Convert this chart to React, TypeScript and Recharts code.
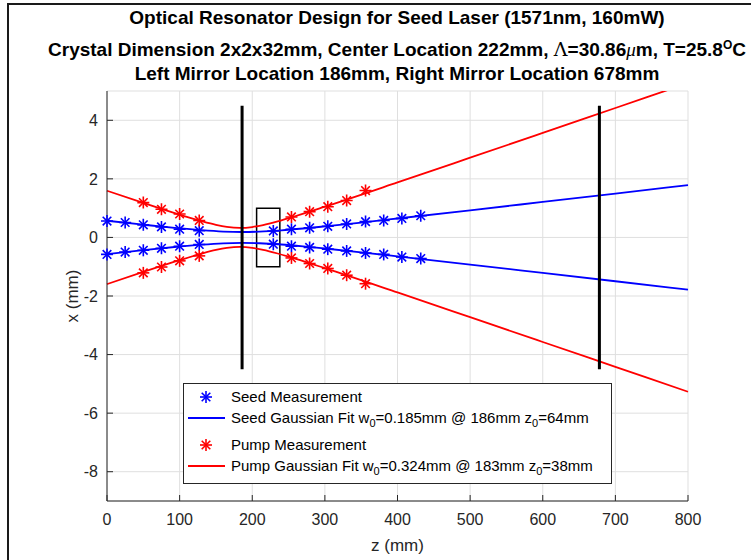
import React from "react"
import {
  ComposedChart,
  Line,
  Scatter,
  XAxis,
  YAxis,
  CartesianGrid,
  ReferenceLine,
  ReferenceArea,
  Legend,
} from "recharts"

const zTicks = [0, 100, 200, 300, 400, 500, 600, 700, 800]
const xTicks = [-8, -6, -4, -2, 0, 2, 4]

// measured beam radius (mm) vs position z (mm)
const seedMeasZ = [0, 25, 50, 75, 100, 127, 229, 254, 279, 304, 330, 356, 381, 406, 432]
const seedMeasUpper = [0.56, 0.51, 0.43, 0.36, 0.28, 0.23, 0.22, 0.28, 0.33, 0.38, 0.46, 0.54, 0.58, 0.65, 0.74]
const seedMeasLower = [-0.58, -0.5, -0.44, -0.37, -0.3, -0.24, -0.23, -0.3, -0.34, -0.4, -0.46, -0.53, -0.58, -0.67, -0.72]

const pumpMeasZ = [50, 75, 100, 127, 254, 279, 304, 330, 356]
const pumpMeasUpper = [1.19, 0.96, 0.8, 0.58, 0.7, 0.88, 1.05, 1.26, 1.6]
const pumpMeasLower = [-1.21, -1.01, -0.8, -0.63, -0.7, -0.89, -1.06, -1.29, -1.58]

// gaussian fit curves
const seedFitZ = [0, 50, 100, 130, 160, 186, 210, 240, 270, 300, 350, 400, 500, 600, 700, 800]
const seedFitUpper = [0.57, 0.435, 0.31, 0.246, 0.2, 0.185, 0.198, 0.242, 0.305, 0.378, 0.509, 0.646, 0.926, 1.211, 1.497, 1.785]
const seedFitLower = [-0.57, -0.435, -0.31, -0.246, -0.2, -0.185, -0.198, -0.242, -0.305, -0.378, -0.509, -0.646, -0.926, -1.211, -1.497, -1.785]

const pumpFitZ = [0, 50, 100, 130, 150, 165, 183, 200, 215, 235, 260, 300, 400, 500, 600, 700, 800]
const pumpFitUpper = [1.594, 1.179, 0.778, 0.556, 0.429, 0.359, 0.324, 0.355, 0.424, 0.549, 0.732, 1.049, 1.878, 2.722, 3.57, 4.42, 5.27]
const pumpFitLower = [-1.594, -1.179, -0.778, -0.556, -0.429, -0.359, -0.324, -0.355, -0.424, -0.549, -0.732, -1.049, -1.878, -2.722, -3.57, -4.42, -5.27]

const mirrorZ = [186, 678]
const mirrorHalfHeight = 4.5
const crystalCenter = 222
const crystalLength = 32
const crystalHalfWidth = 1

const BLUE = "#0000ff"
const RED = "#ff0000"
const AXIS = "#262626"
const FONT = "'Liberation Sans', Arial, Helvetica, sans-serif"

const toPoints = (zs: number[], ws: number[]) => zs.map((z, i) => ({ z, w: ws[i] }))

const seedMeas = [...toPoints(seedMeasZ, seedMeasUpper), ...toPoints(seedMeasZ, seedMeasLower)]
const pumpMeas = [...toPoints(pumpMeasZ, pumpMeasUpper), ...toPoints(pumpMeasZ, pumpMeasLower)]

const Asterisk = ({ cx, cy, color }: { cx: number; cy: number; color: string }) => {
  const r = 6
  const d = 4.3
  return (
    <g stroke={color} strokeWidth={1.6} strokeLinecap="butt">
      <line x1={cx - r} y1={cy} x2={cx + r} y2={cy} />
      <line x1={cx} y1={cy - r} x2={cx} y2={cy + r} />
      <line x1={cx - d} y1={cy - d} x2={cx + d} y2={cy + d} />
      <line x1={cx - d} y1={cy + d} x2={cx + d} y2={cy - d} />
    </g>
  )
}

const Sub = ({ children }: { children: React.ReactNode }) => (
  <tspan fontSize={11} dy={4}>
    {children}
  </tspan>
)

const LegendBox = () => (
  <svg width={429} height={101} style={{ display: "block", fontFamily: FONT }}>
    <rect x={0.5} y={0.5} width={428} height={100} fill="#fff" stroke={AXIS} />
    <Asterisk cx={23} cy={14} color={BLUE} />
    <text x={48} y={19} fontSize={15} fill="#000">Seed Measurement</text>
    <line x1={5} y1={35} x2={42} y2={35} stroke={BLUE} strokeWidth={1.8} />
    <text x={48} y={40} fontSize={15} fill="#000">
      Seed Gaussian Fit w<Sub>0</Sub>
      <tspan dy={-4}>=0.185mm @ 186mm z</tspan>
      <Sub>0</Sub>
      <tspan dy={-4}>=64mm</tspan>
    </text>
    <Asterisk cx={23} cy={62} color={RED} />
    <text x={48} y={67} fontSize={15} fill="#000">Pump Measurement</text>
    <line x1={5} y1={83} x2={42} y2={83} stroke={RED} strokeWidth={1.8} />
    <text x={48} y={88} fontSize={15} fill="#000">
      Pump Gaussian Fit w<Sub>0</Sub>
      <tspan dy={-4}>=0.324mm @ 183mm z</tspan>
      <Sub>0</Sub>
      <tspan dy={-4}>=38mm</tspan>
    </text>
  </svg>
)

const titleLine: React.CSSProperties = {
  position: "absolute",
  left: 0,
  width: 794,
  height: 22,
  textAlign: "center",
  fontFamily: FONT,
  fontWeight: 700,
  fontSize: 19,
  color: "#000",
  whiteSpace: "nowrap",
  lineHeight: "22px",
}

export default function App() {
  return (
    <div
      style={{
        position: "fixed",
        left: 0,
        top: 0,
        width: 751,
        height: 560,
        overflow: "hidden",
        background: "#fff",
      }}
    >
      <div
        style={{
          position: "absolute",
          left: 7,
          top: 3,
          width: 800,
          height: 600,
          border: "2px solid #1a1a1a",
        }}
      />
      <div style={{ ...titleLine, top: 7 }}>Optical Resonator Design for Seed Laser (1571nm, 160mW)</div>
      <div style={{ ...titleLine, top: 38 }}>
        Crystal Dimension 2x2x32mm, Center Location 222mm,{" "}
        <span style={{ fontFamily: "'DejaVu Serif', serif", fontWeight: 400 }}>Λ</span>=30.86
        <span style={{ fontFamily: "'Liberation Serif', serif", fontWeight: 400, fontStyle: "italic" }}>μ</span>m,
        T=25.8<span style={{ fontSize: 12, position: "relative", top: -7, lineHeight: "0px" }}>O</span>C
      </div>
      <div style={{ ...titleLine, top: 63 }}>Left Mirror Location 186mm, Right Mirror Location 678mm</div>

      <div style={{ position: "absolute", left: 0, top: 0 }}>
        <ComposedChart
          width={751}
          height={560}
          margin={{ top: 91, right: 63, bottom: 1, left: 37 }}
          style={{ fontFamily: FONT }}
        >
          <CartesianGrid stroke="#dfdfdf" strokeWidth={1} />
          <XAxis
            dataKey="z"
            type="number"
            domain={[0, 800]}
            ticks={zTicks}
            interval={0}
            height={58}
            stroke={AXIS}
            tickSize={-6}
            tickMargin={19}
            tick={{ fontSize: 16, fill: AXIS }}
            label={{ value: "z (mm)", position: "insideBottom", offset: 8, fontSize: 17, fill: AXIS }}
          />
          <XAxis
            xAxisId="top"
            orientation="top"
            type="number"
            domain={[0, 800]}
            ticks={zTicks}
            interval={0}
            height={0}
            stroke={AXIS}
            tickSize={-6}
            tick={false}
          />
          <YAxis
            type="number"
            domain={[-9, 5]}
            ticks={xTicks}
            interval={0}
            allowDataOverflow
            width={70}
            stroke={AXIS}
            tickSize={-6}
            tickMargin={15}
            tick={{ fontSize: 16, fill: AXIS }}
            label={{ value: "x (mm)", angle: -90, position: "center", fontSize: 17, fill: AXIS }}
          />
          <YAxis
            yAxisId="right"
            orientation="right"
            type="number"
            domain={[-9, 5]}
            ticks={xTicks}
            interval={0}
            width={0}
            stroke={AXIS}
            tickSize={-6}
            tick={false}
          />
          <Legend
            layout="vertical"
            align="center"
            verticalAlign="middle"
            wrapperStyle={{ left: 183, top: 383, width: 429, height: 101 }}
            content={() => <LegendBox />}
          />
          <Line data={toPoints(seedFitZ, seedFitUpper)} dataKey="w" type="monotone" stroke={BLUE} strokeWidth={1.8} dot={false} isAnimationActive={false} legendType="none" />
          <Line data={toPoints(seedFitZ, seedFitLower)} dataKey="w" type="monotone" stroke={BLUE} strokeWidth={1.8} dot={false} isAnimationActive={false} legendType="none" />
          <Line data={toPoints(pumpFitZ, pumpFitUpper)} dataKey="w" type="monotone" stroke={RED} strokeWidth={1.8} dot={false} isAnimationActive={false} legendType="none" />
          <Line data={toPoints(pumpFitZ, pumpFitLower)} dataKey="w" type="monotone" stroke={RED} strokeWidth={1.8} dot={false} isAnimationActive={false} legendType="none" />
          <Scatter
            data={seedMeas}
            dataKey="w"
            isAnimationActive={false}
            shape={(p: any) => <Asterisk cx={p.cx} cy={p.cy} color={BLUE} />}
          />
          <Scatter
            data={pumpMeas}
            dataKey="w"
            isAnimationActive={false}
            shape={(p: any) => <Asterisk cx={p.cx} cy={p.cy} color={RED} />}
          />
          {mirrorZ.map((z) => (
            <ReferenceLine
              key={z}
              segment={[
                { x: z, y: -mirrorHalfHeight },
                { x: z, y: mirrorHalfHeight },
              ]}
              stroke="#000"
              strokeWidth={3}
            />
          ))}
          <ReferenceArea
            x1={crystalCenter - crystalLength / 2}
            x2={crystalCenter + crystalLength / 2}
            y1={-crystalHalfWidth}
            y2={crystalHalfWidth}
            fill="none"
            stroke="#000"
            strokeWidth={1.5}
          />
        </ComposedChart>
      </div>
    </div>
  )
}
